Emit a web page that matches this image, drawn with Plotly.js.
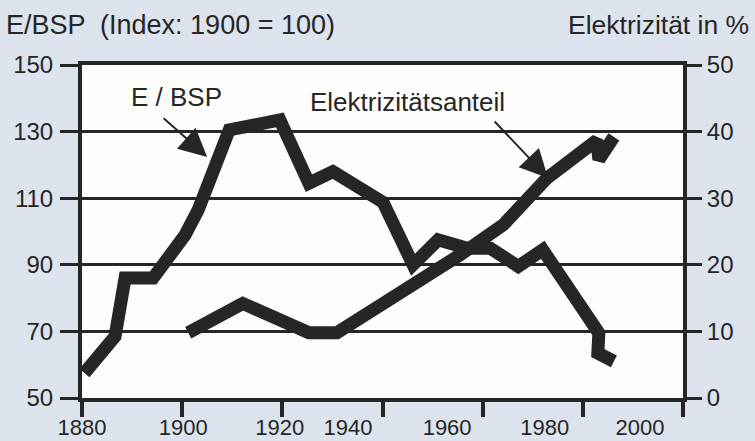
<!DOCTYPE html>
<html>
<head>
<meta charset="utf-8">
<script src="https://cdn.plot.ly/plotly-3.0.1.min.js"></script>
<style>html,body{margin:0;padding:0;background:#dce3ed;}#chart{width:755px;height:441px;}</style>
</head>
<body>
<div id="chart"></div>
<script>
// E/BSP index (left axis, 1900 = 100)
const ebspYears = [1880.5, 1886.6, 1888.6, 1894.2, 1900.6, 1903.2, 1909.4, 1919.5, 1925.3, 1930.1, 1940.1, 1946.1, 1951.1, 1956.9, 1961.5, 1967.1, 1972.0, 1983.2, 1983.0, 1986.2];
const ebspValues = [57.5, 68.5, 86, 86, 99, 106.5, 130.5, 133.5, 114.5, 118, 108.8, 90, 97.5, 95, 95, 89.5, 94.5, 69.5, 63.5, 61];

// Elektrizitätsanteil in % (right axis)
const elecYears = [1901.2, 1912.1, 1925.3, 1930.9, 1955.5, 1964.1, 1972.8, 1982.8, 1983.2, 1986.2];
const elecValues = [9.8, 14.2, 9.8, 9.8, 21.5, 26, 33, 38.7, 35.8, 39.2];

// axis ticks
const xTickVals = [1880, 1900, 1920, 1940, 1960, 1980, 2000];
const xLabelPos = [1880, 1900.2, 1919.5, 1933.1, 1952.9, 1972.4, 1991.4];
const xLabelText = ['1880', '1900', '1920', '1940', '1960', '1980', '2000'];
const yLeftTicks = [50, 70, 90, 110, 130, 150];
const yRightTicks = [0, 10, 20, 30, 40, 50];

const ink = '#262626';
const fontFam = '"Liberation Sans", Arial, Helvetica, sans-serif';

const traces = [
  {x: ebspYears, y: ebspValues, type: 'scatter', mode: 'lines', xaxis: 'x', yaxis: 'y',
   line: {color: ink, width: 13}, hoverinfo: 'skip', showlegend: false},
  {x: elecYears, y: elecValues, type: 'scatter', mode: 'lines', xaxis: 'x', yaxis: 'y2',
   line: {color: ink, width: 13}, hoverinfo: 'skip', showlegend: false},
  {x: [1880], y: [50], type: 'scatter', mode: 'markers', xaxis: 'x2', yaxis: 'y',
   marker: {opacity: 0}, hoverinfo: 'skip', showlegend: false}
];

const layout = {
  width: 755, height: 441,
  margin: {l: 82, r: 72, t: 65, b: 43, pad: 0},
  paper_bgcolor: '#dce3ed',
  plot_bgcolor: '#fdfdfc',
  font: {family: fontFam, color: ink, size: 23},
  xaxis: {
    range: [1880, 2000], tickvals: xTickVals, showticklabels: false,
    ticks: 'outside', ticklen: 15, tickwidth: 4, tickcolor: ink,
    showline: true, linewidth: 4, linecolor: ink, mirror: true,
    showgrid: false, zeroline: false, fixedrange: true
  },
  xaxis2: {
    range: [1880, 2000], overlaying: 'x', anchor: 'y', side: 'bottom',
    tickvals: xLabelPos, ticktext: xLabelText, ticks: '',
    ticklabelstandoff: 14, showline: false, showgrid: false, zeroline: false,
    tickfont: {size: 22, color: ink, family: fontFam}, fixedrange: true
  },
  yaxis: {
    range: [50, 150], tickvals: yLeftTicks, ticks: 'outside', ticklen: 18, tickwidth: 3,
    tickcolor: ink, showline: true, linewidth: 4, linecolor: ink,
    showgrid: true, gridcolor: ink, gridwidth: 3, zeroline: false,
    ticklabelstandoff: 2, tickfont: {size: 24, color: ink, family: fontFam}, fixedrange: true
  },
  yaxis2: {
    range: [0, 50], tickvals: yRightTicks, overlaying: 'y', side: 'right', anchor: 'x',
    ticks: 'outside', ticklen: 15, tickwidth: 3, tickcolor: ink,
    showline: true, linewidth: 4, linecolor: ink, showgrid: false, zeroline: false,
    ticklabelstandoff: 0, tickfont: {size: 24, color: ink, family: fontFam}, fixedrange: true
  },
  annotations: [
    {xref: 'paper', yref: 'paper', x: -0.13, y: 1.12, xanchor: 'left', yanchor: 'middle',
     text: 'E/BSP \u00a0(Index: 1900 = 100)', showarrow: false, font: {size: 27, color: ink}},
    {xref: 'paper', yref: 'paper', x: 1.113, y: 1.12, xanchor: 'right', yanchor: 'middle',
     text: 'Elektrizität in %', showarrow: false, font: {size: 26.5, color: ink}},
    {xref: 'x', yref: 'y', x: 1898.8, y: 140.4, text: 'E / BSP', showarrow: false,
     font: {size: 26, color: ink}},
    {xref: 'x', yref: 'y', x: 1905.0, y: 122.4, axref: 'x', ayref: 'y', ax: 1896.0, ay: 134.4,
     text: '', showarrow: true, arrowhead: 2, arrowsize: 2.8, arrowwidth: 2, arrowcolor: ink, standoff: 0},
    {xref: 'x', yref: 'y', x: 1944.9, y: 138.9, text: 'Elektrizitätsanteil', showarrow: false,
     font: {size: 26, color: ink}},
    {xref: 'x', yref: 'y', x: 1973.05, y: 116.1, axref: 'x', ayref: 'y', ax: 1962.1, ay: 133.5,
     text: '', showarrow: true, arrowhead: 2, arrowsize: 2.8, arrowwidth: 2, arrowcolor: ink, standoff: 0}
  ]
};

Plotly.newPlot('chart', traces, layout, {staticPlot: true, displayModeBar: false});
</script>
</body>
</html>
